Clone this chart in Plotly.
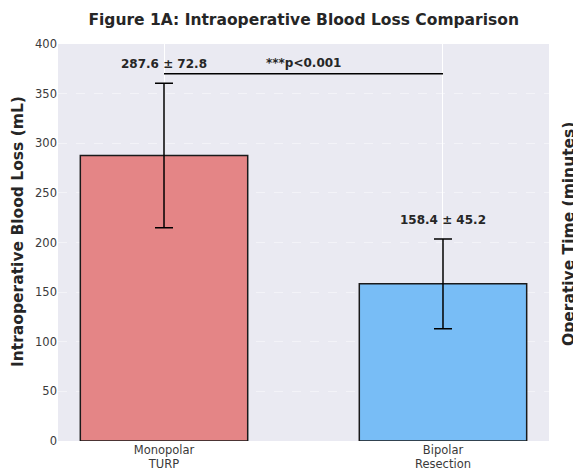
import plotly.graph_objects as go

categories = ["Monopolar<br>TURP", "Bipolar<br>Resection"]
means = [287.6, 158.4]
sds = [72.8, 45.2]
colors = ["#E48586", "#78BDF6"]
y_ticks = [0, 50, 100, 150, 200, 250, 300, 350, 400]
sig_text = "***p<0.001"
sig_y = 370

FONT = "DejaVu Sans"
TXT = "#262626"

fig = go.Figure()
fig.add_trace(go.Bar(
    x=categories, y=means, width=0.6,
    marker=dict(color=colors, line=dict(color="#1a1a1a", width=1.5)),
    error_y=dict(type="data", array=sds, visible=True, color="black", thickness=1.5, width=9),
    showlegend=False, hoverinfo="skip",
))

for c, m, s in zip(categories, means, sds):
    fig.add_annotation(x=c, y=m + s + 10, text=f"<b>{m:.1f} ± {s:.1f}</b>", showarrow=False,
                       yanchor="bottom", font=dict(family=FONT, size=12, color=TXT))

fig.add_shape(type="line", xref="x", yref="y", x0=0, x1=1, y0=sig_y, y1=sig_y,
              line=dict(color="black", width=1.6))
fig.add_annotation(x=0.5, xref="x", y=sig_y + 2, yref="y", text=f"<b>{sig_text}</b>", showarrow=False,
                   yanchor="bottom", font=dict(family=FONT, size=12, color=TXT))

fig.add_annotation(xref="paper", yref="paper", x=1.0 + 20 / 491, y=(441 - 234) / 397,
                   text="<b>Operative Time (minutes)</b>",
                   textangle=-90, showarrow=False, xanchor="center", yanchor="middle",
                   font=dict(family=FONT, size=15.5, color=TXT))

fig.add_annotation(xref="paper", yref="paper", x=-40 / 491, y=(441 - 232) / 397,
                   text="<b>Intraoperative Blood Loss (mL)</b>",
                   textangle=-90, showarrow=False, xanchor="center", yanchor="middle",
                   font=dict(family=FONT, size=15.5, color=TXT))

fig.update_layout(
    width=573, height=473,
    margin=dict(l=58, r=24, t=44, b=32, autoexpand=False),
    paper_bgcolor="white", plot_bgcolor="#EAEAF2",
    font=dict(family=FONT, color=TXT),
    title=dict(text="<b>Figure 1A: Intraoperative Blood Loss Comparison</b>", x=0.53, xanchor="center",
               y=1 - 20 / 473, yanchor="middle", font=dict(family=FONT, size=15.5, color=TXT)),
    xaxis=dict(range=[-0.38, 1.38], showgrid=True, gridcolor="white", gridwidth=1, automargin=False,
               tickfont=dict(family=FONT, size=11.5, color="#3a3a3a"), ticks="", showline=False,
               zeroline=False),
    yaxis=dict(range=[0, 400], tickvals=y_ticks, showgrid=True, gridcolor="rgba(255,255,255,0.45)",
               griddash="dash", gridwidth=1, zeroline=False, ticks="", automargin=False,
               tickfont=dict(family=FONT, size=11.5, color="#3a3a3a")),
)

fig.write_html("out.html", config={"displayModeBar": False},
               post_script="document.body.style.margin='0';document.body.style.overflow='hidden';")
